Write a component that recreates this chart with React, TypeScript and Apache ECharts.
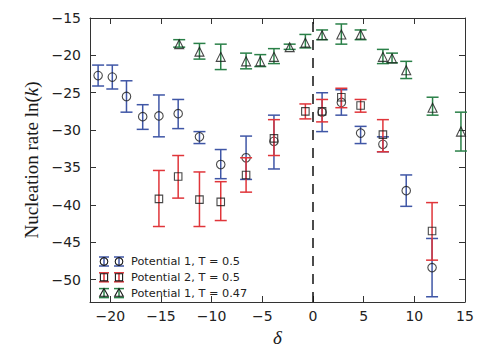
import React, { useEffect, useRef } from "react";
import * as echarts from "echarts";

// Potential 1, T = 0.5 (blue error bars, circles)
const p1x = [-21.2, -19.8, -18.4, -16.8, -15.2, -13.3, -11.2, -9.1, -6.6, -3.85, 0.9, 2.8, 4.7, 6.9, 9.2, 11.75];
const p1y = [-22.7, -22.9, -25.5, -28.2, -28.1, -27.8, -30.9, -34.6, -33.7, -31.5, -27.6, -26.3, -30.4, -31.9, -38.1, -48.4];
const p1lo = [-24.1, -24.5, -27.6, -29.9, -30.9, -29.8, -31.8, -36.5, -36.6, -35.2, -30.2, -28.0, -31.8, -32.9, -40.2, -52.3];
const p1hi = [-21.3, -21.3, -23.4, -26.6, -25.3, -25.9, -30.2, -32.6, -30.8, -28.0, -25.0, -24.6, -29.5, -30.9, -36.0, -44.5];

// Potential 2, T = 0.5 (red error bars, squares)
const p2x = [-15.2, -13.3, -11.2, -9.1, -6.6, -3.85, -0.75, 0.9, 2.8, 4.7, 6.9, 11.75];
const p2y = [-39.2, -36.2, -39.3, -39.6, -36.0, -31.1, -27.5, -27.5, -25.6, -26.7, -30.6, -43.5];
const p2lo = [-42.9, -39.1, -42.9, -42.1, -38.3, -33.4, -28.5, -28.9, -27.0, -27.6, -32.9, -47.4];
const p2hi = [-35.4, -33.4, -35.6, -36.9, -33.7, -28.6, -26.5, -25.9, -24.4, -25.9, -28.6, -39.7];

// Potential 1, T = 0.47 (green error bars, triangles)
const p3x = [-13.2, -11.2, -9.1, -6.6, -5.2, -3.85, -2.3, -0.75, 0.9, 2.8, 4.7, 6.9, 7.8, 9.2, 11.8, 14.6];
const p3y = [-18.5, -19.5, -20.2, -20.8, -20.8, -20.2, -18.9, -18.3, -17.3, -17.2, -17.2, -20.2, -20.4, -22.0, -27.0, -30.2];
const p3lo = [-18.9, -20.5, -21.9, -21.8, -21.5, -21.1, -19.2, -19.0, -17.9, -18.5, -17.9, -21.1, -21.0, -23.1, -28.0, -32.8];
const p3hi = [-17.9, -18.4, -18.5, -19.7, -19.9, -19.1, -18.5, -17.2, -16.6, -15.8, -16.6, -19.2, -19.7, -20.8, -25.6, -27.6];

const xTicks = [-20, -15, -10, -5, 0, 5, 10, 15];
const yTicks = [-50, -45, -40, -35, -30, -25, -20, -15];
const legendNames = ["Potential 1, T = 0.5", "Potential 2, T = 0.5", "Potential 1, T = 0.47"];

const BLUE = "#3f56a6";
const RED = "#e0353a";
const GREEN = "#2a8048";
const INK = "#1a1a1a";
const AXIS = "#333333";

const fmt = (v: number) => String(v).replace("-", "\u2212");

function makeErr(color: string) {
  return (params: any, api: any) => {
    const x = api.value(0);
    const lo = api.value(1);
    const hi = api.value(2);
    const a = api.coord([x, hi]);
    const b = api.coord([x, lo]);
    const w = 6;
    const style = { stroke: color, lineWidth: 1.5, fill: null };
    return {
      type: "group",
      children: [
        { type: "line", shape: { x1: a[0], y1: a[1], x2: b[0], y2: b[1] }, style },
        { type: "line", shape: { x1: a[0] - w, y1: a[1], x2: a[0] + w, y2: a[1] }, style },
        { type: "line", shape: { x1: b[0] - w, y1: b[1], x2: b[0] + w, y2: b[1] }, style },
      ],
    };
  };
}

function legendGraphics() {
  const colors = [BLUE, RED, GREEN];
  const kinds = ["circle", "rect", "triangle"];
  const out: any[] = [];
  const baseY = 253.5;
  const dy = 15.8;
  const xs = [96, 111];
  for (let i = 0; i < 3; i++) {
    const y = baseY + dy * i;
    const style = { stroke: colors[i], lineWidth: 1.5, fill: null };
    for (const x of xs) {
      out.push({ type: "line", shape: { x1: x, y1: y - 4.5, x2: x, y2: y + 4.5 }, style, z: 100 });
      out.push({ type: "line", shape: { x1: x - 5, y1: y - 4.5, x2: x + 5, y2: y - 4.5 }, style, z: 100 });
      out.push({ type: "line", shape: { x1: x - 5, y1: y + 4.5, x2: x + 5, y2: y + 4.5 }, style, z: 100 });
      const ms = { stroke: INK, lineWidth: 1.1, fill: "rgba(0,0,0,0)" };
      if (kinds[i] === "circle") out.push({ type: "circle", shape: { cx: x, cy: y, r: 3.8 }, style: ms, z: 101 });
      else if (kinds[i] === "rect") out.push({ type: "rect", shape: { x: x - 3.6, y: y - 3.6, width: 7.2, height: 7.2 }, style: ms, z: 101 });
      else
        out.push({
          type: "polygon",
          shape: { points: [[x, y - 4.5], [x - 4.3, y + 3.2], [x + 4.3, y + 3.2]] },
          style: ms,
          z: 101,
        });
    }
    out.push({
      type: "text",
      x: 123,
      y: y,
      style: { text: legendNames[i], fontSize: 11.3, fontFamily: "DejaVu Sans", fill: "#222", verticalAlign: "middle" },
      z: 101,
    });
  }
  return out;
}

export default function App() {
  const ref = useRef<HTMLDivElement>(null);
  useEffect(() => {
    if (!ref.current) return;
    const chart = echarts.init(ref.current, null, { renderer: "svg" });
    const tickStyle = { lineStyle: { color: AXIS, width: 1 } };
    const marker = (symbol: string, size: number) => ({
      type: "scatter",
      symbol,
      symbolSize: size,
      itemStyle: { color: "rgba(0,0,0,0)", borderColor: INK, borderWidth: 1.1 },
      xAxisIndex: 0,
      yAxisIndex: 0,
    });
    const option: any = {
      animation: false,
      textStyle: { fontFamily: "DejaVu Sans" },
      grid: { left: 82, right: 27, top: 10, bottom: 42 },
      xAxis: [
        {
          type: "value",
          min: -22,
          max: 15,
          position: "bottom",
          name: "\u03b4",
          nameLocation: "middle",
          nameGap: 26,
          nameTextStyle: { fontFamily: "Liberation Serif", fontStyle: "italic", fontSize: 19, color: INK },
          axisLine: { show: true, onZero: false, lineStyle: { color: AXIS, width: 1 } },
          axisTick: { show: true, inside: true, length: 6, customValues: xTicks, ...tickStyle },
          axisLabel: { customValues: xTicks, formatter: fmt, fontSize: 14, color: "#222", margin: 7, fontFamily: "DejaVu Sans" },
          splitLine: { show: false },
        },
        {
          type: "value",
          min: -22,
          max: 15,
          position: "top",
          axisLine: { show: true, onZero: false, lineStyle: { color: AXIS, width: 1 } },
          axisTick: { show: true, inside: true, length: 6, customValues: xTicks, ...tickStyle },
          axisLabel: { show: false },
          splitLine: { show: false },
        },
      ],
      yAxis: [
        {
          type: "value",
          min: -53,
          max: -15,
          position: "left",
          name: "Nucleation rate ln({i|k})",
          nameLocation: "middle",
          nameGap: 45,
          nameTextStyle: {
            fontFamily: "Liberation Serif",
            fontSize: 19,
            color: INK,
            rich: { i: { fontFamily: "Liberation Serif", fontStyle: "italic", fontSize: 19, color: INK } },
          },
          axisLine: { show: true, onZero: false, lineStyle: { color: AXIS, width: 1 } },
          axisTick: { show: true, inside: true, length: 6, customValues: yTicks, ...tickStyle },
          axisLabel: { customValues: yTicks, formatter: fmt, fontSize: 14, color: "#222", margin: 9, fontFamily: "DejaVu Sans" },
          splitLine: { show: false },
        },
        {
          type: "value",
          min: -53,
          max: -15,
          position: "right",
          axisLine: { show: true, onZero: false, lineStyle: { color: AXIS, width: 1 } },
          axisTick: { show: true, inside: true, length: 6, customValues: yTicks, ...tickStyle },
          axisLabel: { show: false },
          splitLine: { show: false },
        },
      ],
      series: [
        {
          type: "custom",
          name: "p1err",
          renderItem: makeErr(BLUE),
          data: p1x.map((x, i) => [x, p1lo[i], p1hi[i]]),
          encode: { x: 0, y: [1, 2] },
          z: 2,
          silent: true,
        },
        { ...marker("circle", 8.5), name: legendNames[0], data: p1x.map((x, i) => [x, p1y[i]]), z: 3 },
        {
          type: "custom",
          name: "p2err",
          renderItem: makeErr(RED),
          data: p2x.map((x, i) => [x, p2lo[i], p2hi[i]]),
          encode: { x: 0, y: [1, 2] },
          z: 4,
          silent: true,
        },
        { ...marker("rect", 7.5), name: legendNames[1], data: p2x.map((x, i) => [x, p2y[i]]), z: 5 },
        {
          type: "custom",
          name: "p3err",
          renderItem: makeErr(GREEN),
          data: p3x.map((x, i) => [x, p3lo[i], p3hi[i]]),
          encode: { x: 0, y: [1, 2] },
          z: 6,
          silent: true,
        },
        {
          ...marker("triangle", 9),
          name: legendNames[2],
          data: p3x.map((x, i) => [x, p3y[i]]),
          z: 7,
          markLine: {
            silent: true,
            symbol: "none",
            label: { show: false },
            lineStyle: { color: "#111", width: 1.5, type: [10, 8] },
            data: [{ xAxis: 0 }],
          },
        },
      ],
      graphic: legendGraphics(),
    };
    chart.setOption(option);
    return () => chart.dispose();
  }, []);
  return <div ref={ref} style={{ width: 484, height: 344 }} />;
}
